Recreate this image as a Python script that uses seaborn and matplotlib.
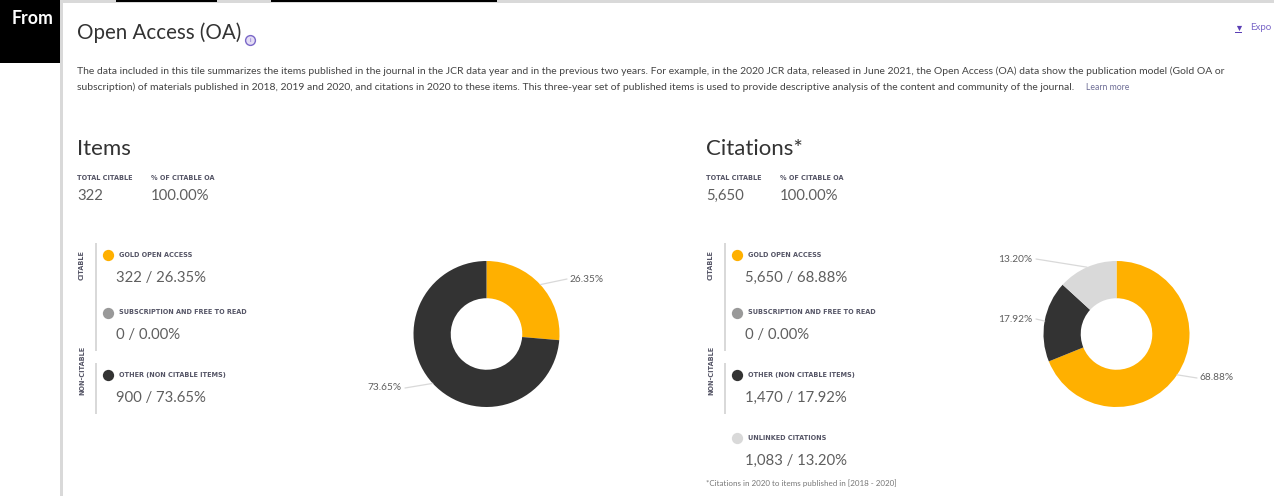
import math
import matplotlib
matplotlib.use("Agg")
import matplotlib.pyplot as plt
from matplotlib.patches import Rectangle
import seaborn as sns

# ---------- data ----------
item_categories = ["GOLD OPEN ACCESS", "SUBSCRIPTION AND FREE TO READ", "OTHER (NON CITABLE ITEMS)"]
item_values = [322, 0, 900]
citation_categories = ["GOLD OPEN ACCESS", "SUBSCRIPTION AND FREE TO READ", "OTHER (NON CITABLE ITEMS)", "UNLINKED CITATIONS"]
citation_values = [5650, 0, 1470, 1083]
item_summary = ["322", "100.00%"]
citation_summary = ["5,650", "100.00%"]
summary_heads = ["TOTAL CITABLE", "% OF CITABLE OA"]

title = "Open Access (OA)"
body_1 = ("The data included in this tile summarizes the items published in the journal in the JCR data year and in the "
          "previous two years. For example, in the 2020 JCR data, released in June 2021, the Open Access (OA) data show "
          "the publication model (Gold OA or")
body_2 = ("subscription) of materials published in 2018, 2019 and 2020, and citations in 2020 to these items. This "
          "three-year set of published items is used to provide descriptive analysis of the content and community of the journal.")
footnote = "*Citations in 2020 to items published in [2018 - 2020]"

W, H = 1274, 496
sns.set_theme(style="white")
plt.rcParams["font.family"] = ["Lato", "DejaVu Sans"]
palette = sns.color_palette(["#FFB000", "#999999", "#333333", "#D9D9D9"])
TXT = "#3a3a3a"; GREY = "#5f5f5f"; RULE = "#D9D9D9"; PURPLE = "#7B68C8"

fig = plt.figure(figsize=(W / 100, H / 100), dpi=100, facecolor="white")
ov = fig.add_axes([0, 0, 1, 1], zorder=5)
ov.set_xlim(0, W); ov.set_ylim(H, 0); ov.axis("off"); ov.patch.set_alpha(0)

def rect(x, y, w, h, c):
    ov.add_patch(Rectangle((x, y), w, h, fc=c, ec="none"))

def txt(x, y, s, size, color=TXT, **kw):
    kw.setdefault("va", "center")
    return ov.text(x, y, s, fontsize=size, color=color, **kw)

def cap(x, y, s, **kw):
    return ov.text(x, y, s, fontsize=4.7, color="#555566", family="DejaVu Sans",
                   fontweight="bold", va="center", **kw)

# page frame
rect(62, 0, W - 62, 3, RULE)
rect(116, 0, 101, 2, "black")
rect(271, 0, 226, 2, "black")
rect(0, 0, 60, 63, "black")
rect(60, 0, 2.5, H, RULE)
txt(12, 18, "From", 12.8, "white", fontweight="bold")

# header
txt(77, 33, title, 14.8, "#333333")
ov.scatter([250], [40], s=50, facecolor="#E4DDF5", edgecolor=PURPLE, linewidth=1)
txt(250, 40, "i", 4.5, PURPLE, ha="center")
txt(77, 71, body_1, 7.5, "#444444")
txt(77, 87, body_2, 7.5, "#444444")
txt(1086, 87, "Learn more", 6.2, "#6E6E96")
ov.scatter([1239], [28], s=14, marker="v", color="#5B3FB5", linewidth=0)
rect(1235, 32, 7, 1, "#5B3FB5")
txt(1250, 27, "Expo", 7, PURPLE)

def panel(x0, name, head, summary, cats, vals, centre, labels):
    txt(x0, 149, head, 16, "#333333")
    cap(x0, 178.5, summary_heads[0])
    cap(x0 + 74, 178.5, summary_heads[1])
    txt(x0, 196, summary[0], 10.7, GREY)
    txt(x0 + 74, 196, summary[1], 10.7, GREY)

    # side rules and group labels
    rect(x0 + 18, 243, 2, 108, RULE)
    rect(x0 + 18, 363, 2, 51, RULE)
    cap(x0 + 5, 265, "CITABLE", rotation=90, ha="center")
    cap(x0 + 5, 370, "NON-CITABLE", rotation=90, ha="center")

    # legend rows
    total = sum(vals)
    rows = [(255, 278), (312.5, 335), (375, 398), (438, 461)]
    for i, (cat, v) in enumerate(zip(cats, vals)):
        ly, vy = rows[i]
        ov.scatter([x0 + 31], [ly], s=66, color=palette[i], linewidth=0)
        cap(x0 + 42, ly, cat)
        txt(x0 + 39, vy, f"{v:,} / {100 * v / total:.2f}%", 10.7, GREY)

    # donut
    cx, cy, r = centre
    ax = fig.add_axes([(cx - r) / W, 1 - (cy + r) / H, 2 * r / W, 2 * r / H])
    ax.pie(vals, colors=palette[:len(vals)], startangle=90, counterclock=False,
           radius=1, wedgeprops=dict(width=0.51, linewidth=0))
    ax.set_xlim(-1, 1); ax.set_ylim(-1, 1); ax.set_aspect("equal")
    ax.axis("off")
    sns.despine(ax=ax, left=True, bottom=True)

    # leader lines and labels
    cum = 0
    for i, v in enumerate(vals):
        if v:
            mid = (cum + v / 2) / total * 2 * math.pi
            rx, ry = cx + r * math.sin(mid), cy - r * math.cos(mid)
            ex, ey, tx, ha = labels[i]
            ov.plot([rx, ex], [ry, ey], color=RULE, lw=0.9, solid_capstyle="round")
            txt(tx, ey, f"{100 * v / total:.2f}%", 7.3, GREY, ha=ha)
        cum += v

panel(77, "items", "Items", item_summary, item_categories, item_values, (486.5, 334, 73),
      {0: (567, 279, 570, "left"), 2: (405, 388, 402, "right")})
panel(706, "citations", "Citations*", citation_summary, citation_categories, citation_values, (1116.5, 334, 73),
      {0: (1197, 378, 1200, "left"), 2: (1036, 319, 1032, "right"), 3: (1036, 259, 1032, "right")})
txt(706, 483, footnote, 5.8, "#777777")

fig.savefig("out.png", dpi=100, facecolor="white")
